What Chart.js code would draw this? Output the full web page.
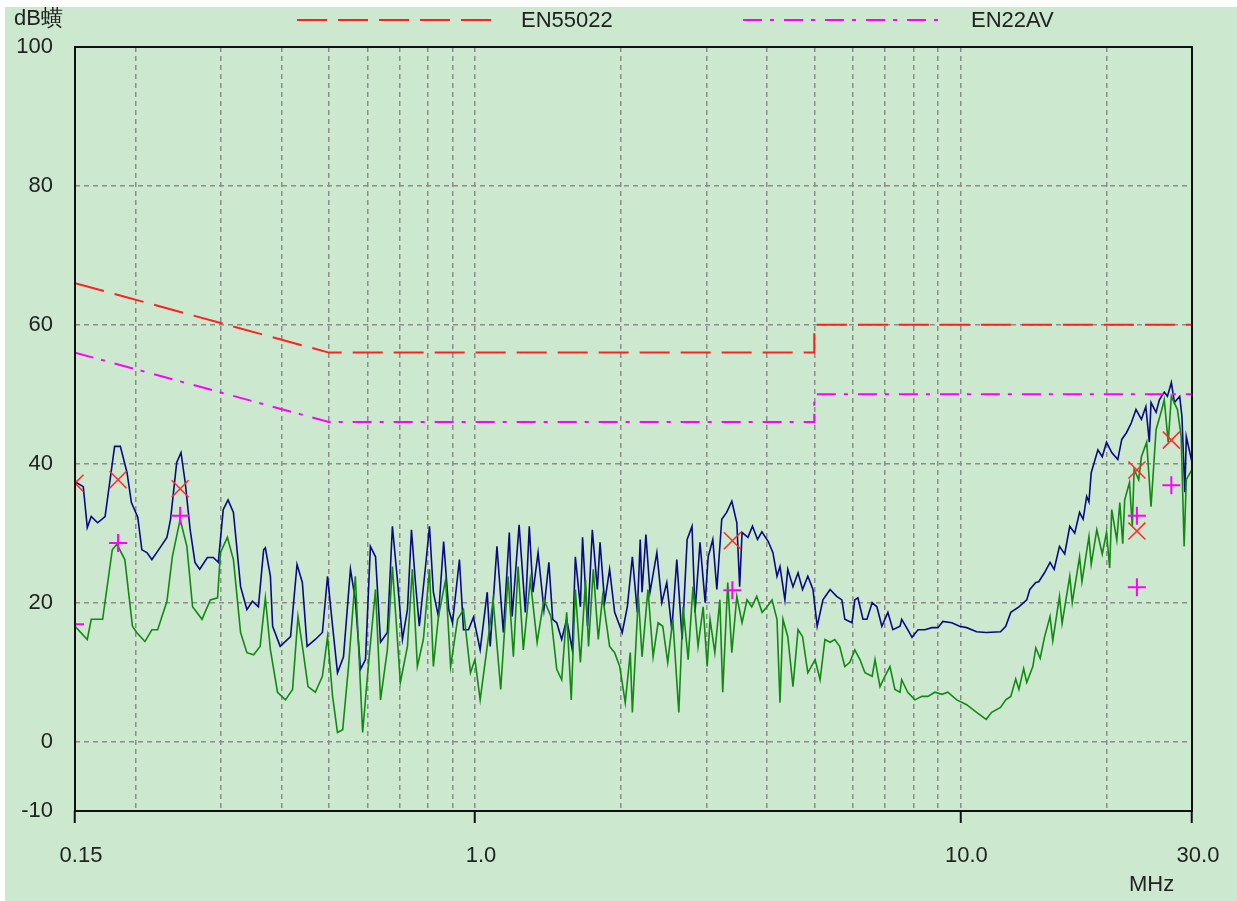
<!DOCTYPE html>
<html>
<head>
<meta charset="utf-8">
<script src="https://cdn.jsdelivr.net/npm/chart.js@4.4.1/dist/chart.umd.min.js"></script>
<style>
body { margin: 0; background: #fff; }
#wrap { position: absolute; left: 5px; top: 7px; width: 1232px; height: 894px; background: #cce8cf; }
</style>
</head>
<body>
<div id="wrap"><canvas id="emi" width="1232" height="894"></canvas></div>
<script>
// scan traces (MHz / dB)
var qpScanMHz = [0.150,0.156,0.159,0.162,0.167,0.173,0.181,0.186,0.192,0.196,0.202,0.206,0.211,0.216,0.221,0.232,0.236,0.243,0.248,0.253,
  0.259,0.265,0.271,0.281,0.289,0.296,0.303,0.310,0.318,0.329,0.339,0.348,0.358,0.367,0.370,0.379,0.383,0.397,0.417,0.430,
  0.441,0.451,0.469,0.485,0.497,0.509,0.521,0.536,0.554,0.567,0.581,0.595,0.609,0.624,0.639,0.660,0.676,0.693,0.709,0.726,
  0.740,0.754,0.768,0.791,0.806,0.821,0.841,0.862,0.883,0.899,0.929,0.947,0.970,0.993,1.025,1.06,1.075,1.11,1.144,1.177,
  1.193,1.233,1.27,1.294,1.317,1.349,1.387,1.42,1.446,1.474,1.509,1.545,1.587,1.61,1.649,1.666,1.706,1.745,1.787,1.81,
  1.85,1.894,1.94,2.011,2.06,2.11,2.16,2.19,2.209,2.25,2.294,2.37,2.426,2.484,2.544,2.605,2.672,2.736,2.80,2.84,
  2.908,2.98,3.023,3.09,3.15,3.224,3.30,3.382,3.463,3.51,3.55,3.65,3.73,3.82,3.90,4.02,4.11,4.19,4.25,4.35,
  4.41,4.52,4.63,4.73,4.85,4.97,5.07,5.21,5.39,5.56,5.70,5.78,5.98,6.06,6.15,6.30,6.42,6.58,6.73,6.89,
  7.09,7.26,7.51,7.57,7.79,7.95,8.18,8.45,8.74,8.99,9.20,9.60,9.96,10.3,10.8,11.3,12.1,12.4,12.7,13.2,
  13.7,13.9,14.3,14.5,14.9,15.3,15.6,16.0,16.4,16.8,17.2,17.6,17.9,18.2,18.4,18.6,19.2,19.6,20.0,20.5,
  21.1,21.5,22.0,22.5,23.0,23.6,24.1,24.5,24.7,25.3,25.7,26.3,26.7,27.2,27.6,28.3,28.6,29.0,29.2,30.0];
var qpScanDb = [37.4,36.7,30.8,32.4,31.5,32.4,42.5,42.5,38.7,34.4,32.3,27.6,27.2,26.2,27.2,29.4,32.0,40.2,41.6,37.3,
  30.5,25.8,24.8,26.5,26.5,25.8,33.4,34.8,33.0,22.3,19.0,20.2,19.4,27.6,27.9,23.8,16.6,13.7,15.1,25.5,
  22.9,13.7,14.7,15.7,23.8,16.6,9.9,12.2,24.8,20.4,10.4,11.8,28.1,26.6,14.3,15.7,31.0,22.9,14.7,19.0,
  30.5,22.9,16.6,25.2,31.0,21.5,18.0,28.8,19.0,17.1,26.2,16.1,16.1,17.9,13.2,21.5,13.7,28.1,15.7,30.1,
  18.0,31.2,18.6,31.0,21.5,27.2,19.0,25.8,17.6,17.1,14.7,17.6,13.2,26.6,19.4,29.4,16.6,30.5,21.9,28.7,
  20.0,24.8,18.6,15.7,19.4,26.6,18.6,29.1,21.5,29.8,21.5,27.2,20.0,22.9,16.1,26.2,14.7,29.1,31.0,18.6,
  28.7,20.0,26.6,29.1,21.9,32.0,33.0,34.6,31.5,22.3,30.1,29.4,31.0,29.1,30.2,28.8,27.2,23.8,25.2,20.4,
  24.8,22.3,24.3,21.9,23.8,21.9,16.6,20.4,21.9,20.9,20.4,17.6,17.1,20.4,20.7,17.6,17.6,20.0,19.4,16.6,
  18.6,16.1,16.6,17.6,16.1,15.0,16.1,16.1,16.4,16.4,17.3,17.1,16.6,16.4,15.8,15.7,15.8,16.6,18.6,19.4,
  20.4,21.9,22.9,23.0,24.3,25.8,24.8,28.1,27.0,31.0,30.0,33.0,32.0,35.3,34.5,38.7,42.0,41.0,43.1,41.6,
  40.6,43.5,44.5,45.9,47.8,46.4,48.2,43.1,48.8,47.4,49.2,50.3,49.7,51.7,48.8,49.7,46.8,35.9,43.9,40.2];

var avScanMHz = [0.150,0.159,0.162,0.171,0.179,0.183,0.190,0.197,0.201,0.209,0.216,0.222,0.232,0.238,0.247,0.255,0.262,0.274,0.285,0.295,
  0.299,0.309,0.318,0.329,0.339,0.350,0.361,0.370,0.379,0.392,0.407,0.421,0.432,0.443,0.453,0.469,0.485,0.497,0.509,0.521,
  0.534,0.549,0.567,0.581,0.587,0.604,0.624,0.639,0.660,0.676,0.702,0.726,0.743,0.761,0.783,0.806,0.821,0.841,0.870,0.891,
  0.921,0.947,0.979,1.00,1.025,1.06,1.09,1.13,1.17,1.20,1.227,1.258,1.30,1.343,1.387,1.434,1.474,1.509,1.545,1.579,
  1.61,1.649,1.69,1.714,1.753,1.795,1.832,1.894,1.94,1.987,2.04,2.089,2.11,2.171,2.209,2.272,2.328,2.384,2.437,2.495,
  2.556,2.63,2.684,2.749,2.813,2.881,2.952,3.009,3.05,3.12,3.195,3.239,3.317,3.382,3.463,3.55,3.635,3.717,3.806,3.905,
  3.998,4.092,4.19,4.25,4.31,4.41,4.52,4.63,4.73,4.85,5.02,5.14,5.26,5.39,5.51,5.64,5.78,5.92,6.06,6.21,
  6.36,6.58,6.67,6.83,6.99,7.16,7.33,7.51,7.57,7.79,8.06,8.33,8.57,8.86,9.16,9.42,9.83,10.3,10.8,11.3,
  11.6,12.1,12.4,12.7,13.0,13.2,13.5,13.7,14.1,14.3,14.6,14.9,15.3,15.5,16.0,16.2,16.8,17.0,17.6,17.8,
  18.4,18.6,19.1,19.6,20.0,20.3,20.5,21.0,21.3,21.6,21.8,22.3,22.6,22.8,23.3,23.6,24.2,24.7,25.3,26.0,
  26.3,26.8,27.2,28.0,28.5,28.9,29.2,30.0];
var avScanDb = [16.6,14.7,17.6,17.6,27.6,28.4,26.2,16.6,15.7,14.4,16.1,16.1,20.2,26.6,32.0,28.1,19.4,17.6,20.4,20.7,
  27.2,29.4,26.2,15.7,12.8,12.5,13.7,20.7,13.2,7.1,6.0,7.5,18.0,12.8,7.9,7.1,9.4,15.1,6.5,1.3,
  1.7,10.8,23.8,7.9,1.3,11.4,21.9,6.0,13.2,25.2,8.5,13.7,24.8,10.8,14.7,24.8,10.8,18.0,23.3,10.8,
  17.6,19.0,9.9,11.8,6.0,13.7,20.4,7.5,23.8,12.2,25.2,13.2,23.3,14.3,20.4,18.0,10.4,8.9,18.6,6.0,
  21.9,11.4,23.3,13.7,24.8,14.7,20.9,13.7,12.8,10.8,5.6,12.8,4.2,20.9,12.2,21.9,12.2,17.1,16.6,11.4,
  17.6,4.2,19.4,11.8,22.3,13.7,19.4,10.8,17.6,12.8,20.4,7.1,22.9,12.8,20.9,17.1,20.4,19.4,20.9,18.6,
  19.4,20.4,17.6,5.6,17.6,15.1,7.9,16.1,15.1,9.9,11.8,8.9,14.7,14.3,14.7,13.7,10.8,11.4,13.2,11.8,
  9.9,9.4,11.8,7.9,9.4,10.8,7.5,7.1,8.9,7.1,6.0,6.5,6.5,7.1,6.8,7.1,6.0,5.3,4.2,3.2,
  4.2,4.9,6.0,6.5,9.0,7.5,10.5,8.5,10.8,13.5,12.0,15.0,18.0,14.5,20.9,17.0,23.8,20.0,26.6,23.0,
  29.5,25.5,30.5,27.0,30.1,25.0,33.4,29.0,34.4,28.5,34.8,37.3,31.0,39.2,37.7,41.0,43.1,33.8,44.9,47.8,
  49.2,43.1,49.7,47.8,43.9,28.1,37.7,39.2];

// limit lines
var limitQpMHz = [0.15, 0.5, 5, 5, 30];
var limitQpDb = [66, 56, 56, 60, 60];
var limitAvMHz = [0.15, 0.5, 5, 5, 30];
var limitAvDb = [56, 46, 46, 50, 50];

// final measurement markers
var qpMarkMHz = [0.15, 0.184, 0.247, 3.39, 23.1, 23.1, 27.2];
var qpMarkDb = [37.2, 37.7, 36.4, 28.9, 39.1, 30.3, 43.4];
var avMarkMHz = [0.15, 0.184, 0.247, 3.39, 23.1, 23.1, 27.2];
var avMarkDb = [16.9, 28.6, 32.5, 21.8, 32.5, 22.2, 36.9];

// axes
var xTickValues = [0.15, 0.2, 0.3, 0.4, 0.5, 0.6, 0.7, 0.8, 0.9, 1, 2, 3, 4, 5, 6, 7, 8, 9, 10, 20, 30];
var xTickLabels = { 0.15: '0.15', 1: '1.0', 10: '10.0', 30: '30.0' };
var yTickValues = [100, 80, 60, 40, 20, 0, -10];

var FONT = '"Liberation Sans", Arial, sans-serif';
var GRID = '#8c8c8c';

function pts(xs, ys) {
  return xs.map(function (x, i) { return { x: x, y: ys[i] }; });
}

var frame = {
  id: 'frame',
  afterDraw: function (chart) {
    var c = chart.ctx, a = chart.chartArea;
    c.save();
    c.strokeStyle = '#111';
    c.lineWidth = 2;
    c.strokeRect(a.left, a.top, a.right - a.left, a.bottom - a.top);

    c.fillStyle = '#222';
    c.font = '22px ' + FONT;
    c.textBaseline = 'middle';
    c.textAlign = 'left';
    c.fillText('dB\u87e5', 9, 12);
    c.fillText('EN55022', 516, 14);
    c.fillText('EN22AV', 966, 14);
    c.fillText('MHz', 1124, 878);

    // legend lines
    c.lineWidth = 2;
    c.strokeStyle = '#ff2020';
    c.setLineDash([30, 11]);
    c.beginPath(); c.moveTo(292, 13); c.lineTo(486, 13); c.stroke();
    c.strokeStyle = '#ff00ff';
    c.setLineDash([19, 8, 4, 10]);
    c.beginPath(); c.moveTo(738, 13); c.lineTo(933, 13); c.stroke();
    c.restore();
  }
};

var ctx = document.getElementById('emi').getContext('2d');
new Chart(ctx, {
  type: 'scatter',
  data: {
    datasets: [{
      label: 'QP',
      data: pts(qpMarkMHz, qpMarkDb),
      pointStyle: 'crossRot',
      pointRadius: 12,
      borderColor: '#ff2a2a',
      borderWidth: 1.5,
      clip: { left: 0, top: 30, right: 30, bottom: 30 }
    }, {
      label: 'AV',
      data: pts(avMarkMHz, avMarkDb),
      pointStyle: 'cross',
      pointRadius: 9,
      borderColor: '#ff00ff',
      borderWidth: 2,
      clip: { left: 0, top: 30, right: 30, bottom: 30 }
    }, {
      label: 'EN55022',
      data: pts(limitQpMHz, limitQpDb),
      showLine: true,
      pointRadius: 0,
      borderColor: '#ff2020',
      borderWidth: 2,
      borderDash: [30, 11]
    }, {
      label: 'EN22AV',
      data: pts(limitAvMHz, limitAvDb),
      showLine: true,
      pointRadius: 0,
      borderColor: '#ff00ff',
      borderWidth: 2,
      borderDash: [19, 8, 4, 10]
    }, {
      label: 'AV scan',
      data: pts(avScanMHz, avScanDb),
      showLine: true,
      pointRadius: 0,
      borderColor: '#118a11',
      borderWidth: 1.6
    }, {
      label: 'QP scan',
      data: pts(qpScanMHz, qpScanDb),
      showLine: true,
      pointRadius: 0,
      borderColor: '#0a0a85',
      borderWidth: 1.6
    }]
  },
  options: {
    responsive: false,
    devicePixelRatio: 1,
    animation: false,
    layout: { padding: { top: 40, right: 45, left: 0, bottom: 0 } },
    plugins: {
      legend: { display: false },
      tooltip: { enabled: false }
    },
    scales: {
      x: {
        type: 'logarithmic',
        min: 0.15,
        max: 30,
        afterBuildTicks: function (s) {
          s.ticks = xTickValues.map(function (v) { return { value: v }; });
        },
        afterFit: function (s) { s.height = 90; },
        ticks: {
          autoSkip: false,
          maxRotation: 0,
          minRotation: 0,
          padding: 20,
          labelOffset: 6,
          color: '#222',
          font: { family: FONT, size: 22 },
          callback: function (v) { return xTickLabels[v] || ''; }
        },
        grid: {
          color: function (c) {
            if (!c.tick || c.tick.value === 0.15 || c.tick.value === 30) return 'rgba(0,0,0,0)';
            return GRID;
          },
          lineWidth: 1.5,
          tickLength: 12,
          tickWidth: 2,
          tickColor: function (c) {
            return (c.tick && xTickLabels[c.tick.value]) ? '#111' : 'rgba(0,0,0,0)';
          }
        },
        border: { display: false, dash: [5, 4] }
      },
      y: {
        min: -10,
        max: 100,
        afterBuildTicks: function (s) {
          s.ticks = yTickValues.map(function (v) { return { value: v }; });
        },
        afterFit: function (s) { s.width = 70; },
        ticks: {
          padding: 22,
          color: '#222',
          font: { family: FONT, size: 22 },
          callback: function (v) { return String(v); }
        },
        grid: {
          color: function (c) {
            if (!c.tick || c.tick.value === 100 || c.tick.value === -10) return 'rgba(0,0,0,0)';
            return GRID;
          },
          lineWidth: 1.5,
          drawTicks: false
        },
        border: { display: false, dash: [5, 4] }
      }
    }
  },
  plugins: [frame]
});
</script>
</body>
</html>
